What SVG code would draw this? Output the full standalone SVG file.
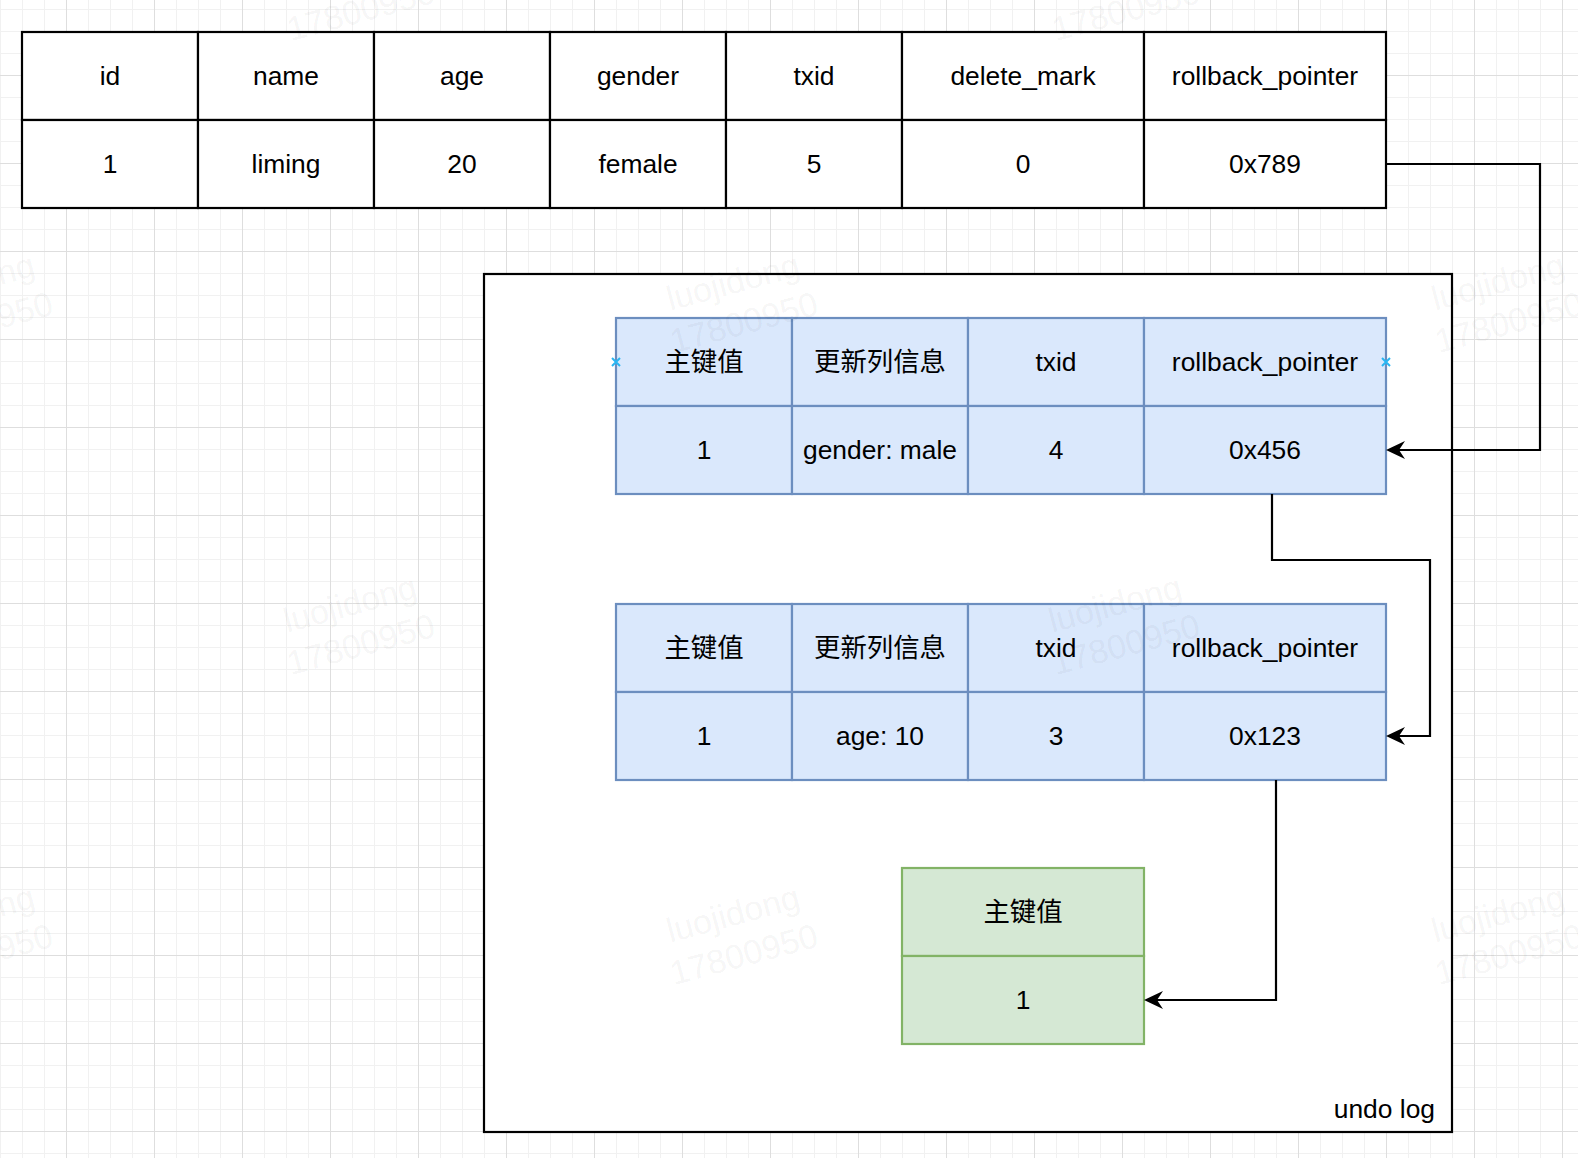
<svg xmlns="http://www.w3.org/2000/svg" width="1578" height="1158" viewBox="0 0 1578 1158">
<defs>
<style>
.t{font-family:'Liberation Sans','Noto Sans CJK SC',sans-serif;font-size:26.4px;fill:#000;text-anchor:middle}
.c{fill:#fff;stroke:#000;stroke-width:2.2}
.b{fill:#dae8fc;stroke:#6c8ebf;stroke-width:2.2}
.g{fill:#d5e8d4;stroke:#82b366;stroke-width:2.2}
.e{fill:none;stroke:#000;stroke-width:2.2}
.wm{font-family:'Liberation Sans',sans-serif;font-size:34px;fill:#000;fill-opacity:.055;text-anchor:middle}
.x{stroke:#29b6f2;stroke-width:2}
</style>
<pattern id="grid" patternUnits="userSpaceOnUse" x="66" y="75" width="88" height="88">
<rect width="88" height="88" fill="#fff"/>
<rect x="22" width="1" height="88" fill="#f1f1f1"/>
<rect x="44" width="1" height="88" fill="#f1f1f1"/>
<rect x="66" width="1" height="88" fill="#f1f1f1"/>
<rect y="22" width="88" height="1" fill="#f1f1f1"/>
<rect y="44" width="88" height="1" fill="#f1f1f1"/>
<rect y="66" width="88" height="1" fill="#f1f1f1"/>
<rect width="1" height="88" fill="#dedede"/>
<rect width="88" height="1" fill="#dedede"/>
</pattern>
<marker id="arr" markerUnits="userSpaceOnUse" markerWidth="19" markerHeight="18" refX="6" refY="9" orient="auto" viewBox="0 0 19 18">
<path d="M19,9 L0,0 L6,9 L0,18 Z" fill="#000"/>
</marker>
</defs>
<rect width="1578" height="1158" fill="url(#grid)"/>

<g id="row-table">
<rect class="c" x="22" y="32" width="176" height="88"/>
<rect class="c" x="198" y="32" width="176" height="88"/>
<rect class="c" x="374" y="32" width="176" height="88"/>
<rect class="c" x="550" y="32" width="176" height="88"/>
<rect class="c" x="726" y="32" width="176" height="88"/>
<rect class="c" x="902" y="32" width="242" height="88"/>
<rect class="c" x="1144" y="32" width="242" height="88"/>
<rect class="c" x="22" y="120" width="176" height="88"/>
<rect class="c" x="198" y="120" width="176" height="88"/>
<rect class="c" x="374" y="120" width="176" height="88"/>
<rect class="c" x="550" y="120" width="176" height="88"/>
<rect class="c" x="726" y="120" width="176" height="88"/>
<rect class="c" x="902" y="120" width="242" height="88"/>
<rect class="c" x="1144" y="120" width="242" height="88"/>
<text class="t" x="110" y="85">id</text>
<text class="t" x="286" y="85">name</text>
<text class="t" x="462" y="85">age</text>
<text class="t" x="638" y="85">gender</text>
<text class="t" x="814" y="85">txid</text>
<text class="t" x="1023" y="85">delete_mark</text>
<text class="t" x="1265" y="85">rollback_pointer</text>
<text class="t" x="110" y="173">1</text>
<text class="t" x="286" y="173">liming</text>
<text class="t" x="462" y="173">20</text>
<text class="t" x="638" y="173">female</text>
<text class="t" x="814" y="173">5</text>
<text class="t" x="1023" y="173">0</text>
<text class="t" x="1265" y="173">0x789</text>
</g>

<g id="undo-log">
<rect x="484" y="274" width="968" height="858" fill="#fff" stroke="#000" stroke-width="2.2"/>
<text class="t" x="1435" y="1118" style="text-anchor:end">undo log</text>
</g>

<g id="undo-1">
<rect class="b" x="616" y="318" width="176" height="88"/>
<rect class="b" x="792" y="318" width="176" height="88"/>
<rect class="b" x="968" y="318" width="176" height="88"/>
<rect class="b" x="1144" y="318" width="242" height="88"/>
<rect class="b" x="616" y="406" width="176" height="88"/>
<rect class="b" x="792" y="406" width="176" height="88"/>
<rect class="b" x="968" y="406" width="176" height="88"/>
<rect class="b" x="1144" y="406" width="242" height="88"/>
<text class="t" x="704" y="371">主键值</text>
<text class="t" x="880" y="371">更新列信息</text>
<text class="t" x="1056" y="371">txid</text>
<text class="t" x="1265" y="371">rollback_pointer</text>
<text class="t" x="704" y="459">1</text>
<text class="t" x="880" y="459">gender: male</text>
<text class="t" x="1056" y="459">4</text>
<text class="t" x="1265" y="459">0x456</text>
</g>

<g id="undo-2">
<rect class="b" x="616" y="604" width="176" height="88"/>
<rect class="b" x="792" y="604" width="176" height="88"/>
<rect class="b" x="968" y="604" width="176" height="88"/>
<rect class="b" x="1144" y="604" width="242" height="88"/>
<rect class="b" x="616" y="692" width="176" height="88"/>
<rect class="b" x="792" y="692" width="176" height="88"/>
<rect class="b" x="968" y="692" width="176" height="88"/>
<rect class="b" x="1144" y="692" width="242" height="88"/>
<text class="t" x="704" y="657">主键值</text>
<text class="t" x="880" y="657">更新列信息</text>
<text class="t" x="1056" y="657">txid</text>
<text class="t" x="1265" y="657">rollback_pointer</text>
<text class="t" x="704" y="745">1</text>
<text class="t" x="880" y="745">age: 10</text>
<text class="t" x="1056" y="745">3</text>
<text class="t" x="1265" y="745">0x123</text>
</g>

<g id="undo-3">
<rect class="g" x="902" y="868" width="242" height="88"/>
<rect class="g" x="902" y="956" width="242" height="88"/>
<text class="t" x="1023" y="921">主键值</text>
<text class="t" x="1023" y="1009">1</text>
</g>

<g id="connectors">
<path class="e" d="M1386,164 H1540 V450 H1399" marker-end="url(#arr)"/>
<path class="e" d="M1272,494 V560 H1430 V736 H1399" marker-end="url(#arr)"/>
<path class="e" d="M1276,780 V1000 H1157" marker-end="url(#arr)"/>
</g>

<g id="handles">
<path class="x" d="M612,358 L620,366 M620,358 L612,366"/>
<path class="x" d="M1382,358 L1390,366 M1390,358 L1382,366"/>
</g>

<g id="watermarks">
<g transform="rotate(-15 353 -19)"><text class="wm" x="353" y="-19">luojidong</text><text class="wm" x="353" y="23">17800950</text></g>
<g transform="rotate(-15 1118 -19)"><text class="wm" x="1118" y="-19">luojidong</text><text class="wm" x="1118" y="23">17800950</text></g>
<g transform="rotate(-15 -29 293)"><text class="wm" x="-29" y="293">luojidong</text><text class="wm" x="-29" y="335">17800950</text></g>
<g transform="rotate(-15 736 293)"><text class="wm" x="736" y="293">luojidong</text><text class="wm" x="736" y="335">17800950</text></g>
<g transform="rotate(-15 1501 293)"><text class="wm" x="1501" y="293">luojidong</text><text class="wm" x="1501" y="335">17800950</text></g>
<g transform="rotate(-15 353 615)"><text class="wm" x="353" y="615">luojidong</text><text class="wm" x="353" y="657">17800950</text></g>
<g transform="rotate(-15 1118 615)"><text class="wm" x="1118" y="615">luojidong</text><text class="wm" x="1118" y="657">17800950</text></g>
<g transform="rotate(-15 -29 925)"><text class="wm" x="-29" y="925">luojidong</text><text class="wm" x="-29" y="967">17800950</text></g>
<g transform="rotate(-15 736 925)"><text class="wm" x="736" y="925">luojidong</text><text class="wm" x="736" y="967">17800950</text></g>
<g transform="rotate(-15 1501 925)"><text class="wm" x="1501" y="925">luojidong</text><text class="wm" x="1501" y="967">17800950</text></g>
</g>
</svg>
